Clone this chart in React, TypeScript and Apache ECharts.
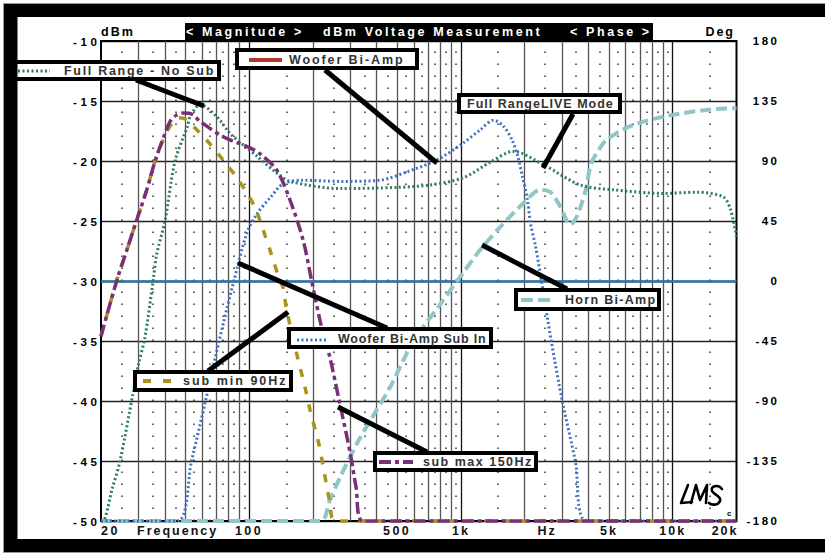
import React, { useEffect, useRef } from "react";
import * as echarts from "echarts";

// ---------------- data ----------------
const freqMin = 20;
const freqMax = 20000;
const dbMin = -50;
const dbMax = -10;
const dbStep = 5;
const degMin = -180;
const degMax = 180;
const degStep = 45;
const phaseZeroDeg = 0;

const fullRangeFreq = [20, 20.4, 22.6, 24.6, 28.4, 30, 32.2, 35.3, 36.6, 40.1, 44.7, 51.2, 52.7, 58.7, 70.4, 81.3, 97.6, 109, 135, 156, 269, 500, 716, 1026, 1376, 1766, 2449, 3664, 5240, 9032, 13060, 17340, 18700, 20000];
const fullRangeDb = [-50, -50, -47.3, -45, -39.25, -37, -34.75, -29.9, -27.8, -25, -20, -17.1, -16.3, -15.3, -16.3, -17.7, -18.9, -19.6, -21, -21.7, -22.3, -22.2, -22, -21.4, -20.1, -19.2, -20.3, -22, -22.4, -22.7, -22.6, -23, -24, -26.3];

const wooferSubInFreq = [20, 45.6, 53.5, 62.3, 68.6, 75.9, 84.2, 97.6, 109, 126.6, 145, 180, 269, 416, 557, 773, 1026, 1234, 1426, 1589, 1744, 1855, 1953, 2063, 2130, 2250, 2400, 2670, 3010, 3468, 3920, 20000];
const wooferSubInDb = [-50, -50, -45, -40, -36.7, -33.4, -30.2, -26, -24.4, -23, -21.9, -21.6, -21.7, -21.6, -20.9, -19.9, -18.5, -17.4, -16.6, -17.1, -18.25, -19.6, -21.3, -23.25, -25.2, -27.1, -30, -35, -40, -45, -50, -50];

const subMaxFreq = [20, 23.7, 26.4, 29.5, 32.9, 36, 40.1, 42.4, 45.2, 48.8, 53.8, 58.7, 75.9, 101, 112.7, 135, 156, 180, 197, 217, 241, 268, 300, 320, 344, 20000];
const subMaxDb = [-34.6, -30, -27.5, -24.9, -22.4, -20, -17.7, -16.7, -16.2, -16, -16.1, -16.7, -18, -18.9, -19.4, -20.75, -23.25, -26.6, -29.9, -33.4, -36.4, -40.2, -44.3, -47.2, -50, -50];

const subMinFreq = [20, 23.7, 26.4, 29.5, 32.9, 36, 40.1, 43.5, 46.5, 50, 54.5, 63, 74.5, 86, 95.7, 106.8, 116.6, 127, 137, 145, 150, 167, 185, 194, 213, 222.5, 241, 255, 20000];
const subMinDb = [-34.6, -30, -27.5, -24.9, -22.4, -20, -17.9, -16.8, -16.4, -16.5, -17.1, -18.25, -19.8, -21.2, -22.4, -23.9, -25.75, -27.7, -29.5, -30.6, -32.3, -35.9, -39.1, -40.75, -43.5, -45.2, -48.5, -50, -50];

const hornFreq = [20, 217, 241, 270, 324, 400, 465, 557, 667, 794, 997, 1234, 1534, 1977, 2372, 2650, 2946, 3282, 3530, 3900, 4100, 4500, 4900, 6300, 9060, 15100, 20000];
const hornDb = [-50, -50, -48.25, -46.3, -43.5, -40.75, -38.8, -36, -33.8, -32, -29.6, -27.4, -25.5, -23.5, -22.4, -22.6, -23.8, -25.3, -24.6, -22.3, -20.3, -19, -18.2, -17.1, -16.3, -15.7, -15.6];

const wooferBiAmpFreq: number[] = [];
const wooferBiAmpDb: number[] = [];

const xLabelFreqs = [20, 46, 100, 500, 1000, 2550, 5000, 10000, 20000];
const xLabelTexts = ["20", "Frequency", "100", "500", "1k", "Hz", "5k", "10k", "20k"];
const xLabelAligns = ["left", "center", "center", "center", "center", "center", "center", "center", "right"];

const seriesNames = ["Full Range - No Sub", "Woofer Bi-Amp", "Full RangeLIVE Mode", "Horn Bi-Amp", "Woofer Bi-Amp Sub In", "sub min 90Hz", "sub max 150Hz"];
const headerTexts = ["< Magnitude >", "dBm Voltage Measurement", "< Phase >"];
const leftUnit = "dBm";
const rightUnit = "Deg";

// ---------------- styling / layout ----------------
const C_GREEN = "#2a7d5e";
const C_BLUE = "#3c72c2";
const C_PURPLE = "#7a2f79";
const C_OLIVE = "#a8931c";
const C_TEAL = "#8fc6c8";
const C_RED = "#b0382c";
const FONT = '"Liberation Sans", Arial, sans-serif';

const legendSpacing: Record<string, number> = {
  "Full Range - No Sub": 1.7,
  "Woofer Bi-Amp": 1.9,
  "Full RangeLIVE Mode": 1,
  "Horn Bi-Amp": 1.3,
  "Woofer Bi-Amp Sub In": 0.8,
  "sub min 90Hz": 2,
  "sub max 150Hz": 1.5,
};

const LOGO_D = "M8 2 L1 20 L12 19 M11 20 L16 2 L20 17 L27 2 L26 20 M42 6 C38 1 30 3 32 8 C34 12 42 13 40 18 C38 23 31 22 29 20";
let logoRegistered = false;
function ensureLogo() {
  if (logoRegistered) return;
  echarts.graphic.registerShape("lmsLogo", echarts.graphic.extendPath(LOGO_D, {}) as any);
  logoRegistered = true;
}

function pairs(f: number[], d: number[]) {
  return f.map((x, i) => [x, d[i]]);
}

function lineSeries(name: string, f: number[], d: number[], color: string, width: number, dash: any, z: number) {
  return {
    type: "line",
    name,
    data: pairs(f, d),
    symbol: "none",
    showSymbol: false,
    smooth: 0.3,
    clip: false,
    silent: true,
    z,
    lineStyle: { color, width, type: dash, cap: "butt" },
  };
}

function txt(text: string, x: number, y: number, opts: any = {}) {
  return {
    type: "text",
    x,
    y,
    z: opts.z ?? 120,
    silent: true,
    style: {
      text,
      fill: opts.fill ?? "#333",
      font: opts.font ?? `bold 12.5px ${FONT}`,
      align: opts.align ?? "left",
      verticalAlign: "middle",
      textAlign: opts.align ?? "left",
      textVerticalAlign: "middle",
    },
  };
}

function seg(x1: number, y1: number, x2: number, y2: number, stroke: string, lineWidth: number, dash?: number[], z = 110) {
  return {
    type: "line",
    silent: true,
    z,
    shape: { x1, y1, x2, y2 },
    style: { stroke, lineWidth, lineDash: dash, lineCap: "butt" },
  };
}

function box(x: number, y: number, w: number, h: number) {
  return {
    type: "rect",
    silent: true,
    z: 115,
    shape: { x, y, width: w, height: h },
    style: { fill: "#fff", stroke: "#000", lineWidth: 4 },
  };
}

function spacingFor(s: string, attrs: string) {
  if (headerTexts.includes(s)) return 2.6;
  if (legendSpacing[s] != null) return legendSpacing[s];
  if (attrs.includes("11.6")) return 3.6; // left axis labels
  if (/^-?\d+$/.test(s)) return 2.5;
  if (s === leftUnit || s === rightUnit || s === "Hz" || s === "Frequency" || /k$/.test(s)) return 2;
  if (s === "c") return 0;
  return 1;
}

function applySpacing(root: HTMLElement | null) {
  if (!root) return;
  root.querySelectorAll("text").forEach((t) => {
    const s = (t.textContent || "").trim();
    const attrs = (t.getAttribute("style") || "") + " " + (t.getAttribute("font-size") || "") + " " + (t.getAttribute("font") || "");
    (t as any).style.letterSpacing = spacingFor(s, attrs) + "px";
  });
}

export default function App() {
  const ref = useRef<HTMLDivElement>(null);

  useEffect(() => {
    if (!ref.current) return;
    ensureLogo();
    const chart = echarts.init(ref.current, null, { renderer: "svg" });

    const solidFreqs: number[] = [];
    const dotFreqs: number[] = [];
    for (const dec of [10, 100, 1000, 10000]) {
      for (let m = 1; m <= 9; m++) {
        const v = m * dec;
        if (v > freqMin && v < freqMax) solidFreqs.push(v);
        const h = (m + 0.5) * dec;
        if (h > freqMin && h < freqMax) dotFreqs.push(h);
      }
    }

    const axisLabelBase = {
      color: "#000",
      fontWeight: "bold",
      fontFamily: FONT,
    };

    const option: any = {
      animation: false,
      backgroundColor: "#fff",
      textStyle: { fontFamily: FONT },
      grid: {
        left: 101,
        right: 88.5,
        top: 41,
        bottom: 34,
        show: true,
        borderColor: "#000",
        borderWidth: 2,
        backgroundColor: "transparent",
        z: 3,
      },
      xAxis: {
        type: "log",
        logBase: 10,
        min: freqMin,
        max: freqMax,
        axisLine: { show: false },
        axisTick: { show: false },
        axisLabel: { show: false },
        splitLine: { show: false },
        minorSplitLine: { show: false },
      },
      yAxis: [
        {
          type: "value",
          min: dbMin,
          max: dbMax,
          interval: dbStep,
          axisLine: { show: false },
          axisTick: { show: false },
          splitLine: { show: true, lineStyle: { color: "#222", width: 1.3 } },
          axisLabel: { ...axisLabelBase, fontSize: 11.6, margin: 0.5 },
        },
        {
          type: "value",
          position: "right",
          min: degMin,
          max: degMax,
          interval: degStep,
          axisLine: { show: false },
          axisTick: { show: false },
          splitLine: { show: false },
          axisLabel: { ...axisLabelBase, fontSize: 11.5, align: "right", margin: 43 },
        },
      ],
      series: [
        {
          type: "line",
          name: "grid",
          data: [],
          silent: true,
          z: 1,
          markLine: {
            silent: true,
            symbol: "none",
            animation: false,
            label: { show: false },
            emphasis: { disabled: true },
            data: [
              ...solidFreqs.map((f) => ({
                xAxis: f,
                lineStyle: { color: f === 100 || f === 1000 || f === 10000 ? "#111" : "#555", width: 1.3, type: "solid" },
              })),
              ...dotFreqs.map((f) => ({
                xAxis: f,
                lineStyle: { color: "#333", width: 1.5, type: [1.5, 10.5] },
              })),
            ],
          },
        },
        {
          type: "line",
          name: "phase0",
          yAxisIndex: 1,
          data: [],
          silent: true,
          z: 2,
          markLine: {
            silent: true,
            symbol: "none",
            animation: false,
            label: { show: false },
            emphasis: { disabled: true },
            data: [{ yAxis: phaseZeroDeg, lineStyle: { color: "#2c73a3", width: 2.5, type: "solid" } }],
          },
        },
        lineSeries(seriesNames[1], wooferBiAmpFreq, wooferBiAmpDb, C_RED, 3, "solid", 4),
        lineSeries(seriesNames[3], hornFreq, hornDb, C_TEAL, 4, [11, 5], 5),
        lineSeries(seriesNames[0], fullRangeFreq, fullRangeDb, C_GREEN, 3, [2, 2.5], 6),
        lineSeries(seriesNames[4], wooferSubInFreq, wooferSubInDb, C_BLUE, 3, [2, 2.5], 7),
        lineSeries(seriesNames[5], subMinFreq, subMinDb, C_OLIVE, 3.5, [8, 10], 8),
        lineSeries(seriesNames[6], subMaxFreq, subMaxDb, C_PURPLE, 3.5, [12, 4, 4, 4], 9),
      ],
    };
    chart.setOption(option);

    const px = (f: number) => chart.convertToPixel({ xAxisIndex: 0 }, f) as number;

    const graphics: any[] = [
      { type: "rect", silent: true, z: 200, shape: { x: 3, y: 3, width: 822, height: 1 }, style: { fill: "#999" } },
      { type: "rect", silent: true, z: 200, shape: { x: 3, y: 3, width: 1, height: 550 }, style: { fill: "#999" } },
      { type: "rect", silent: true, z: 200, shape: { x: 3, y: 552, width: 822, height: 1 }, style: { fill: "#999" } },
      { type: "rect", silent: true, z: 200, shape: { x: 4, y: 4, width: 821, height: 13 }, style: { fill: "#000" } },
      { type: "rect", silent: true, z: 200, shape: { x: 4, y: 4, width: 13.5, height: 548 }, style: { fill: "#000" } },
      { type: "rect", silent: true, z: 200, shape: { x: 4, y: 539, width: 821, height: 13 }, style: { fill: "#000" } },
      { type: "rect", silent: true, z: 100, shape: { x: 185, y: 23, width: 468, height: 18.5 }, style: { fill: "#000" } },
      txt(headerTexts[0], 186, 32, { fill: "#fff" }),
      txt(headerTexts[1], 323, 32, { fill: "#fff" }),
      txt(headerTexts[2], 570, 32, { fill: "#fff" }),
      txt(leftUnit, 101, 32, { fill: "#000" }),
      txt(rightUnit, 735, 32, { fill: "#000", align: "right" }),

      seg(136, 80, 204, 106, "#000", 5),
      seg(325, 70, 437, 163, "#000", 5),
      seg(573, 114, 543, 168, "#000", 5),
      seg(567, 289, 482, 245, "#000", 5),
      seg(387, 328, 238, 263, "#000", 5),
      seg(208, 371, 288, 312, "#000", 5),
      seg(427, 452, 338, 407, "#000", 5),

      box(15, 62, 204, 17),
      seg(18, 71, 50, 71, C_GREEN, 3, [2, 2.5], 118),
      txt(seriesNames[0], 64, 70.5),

      box(237, 50, 180, 18),
      seg(249, 60, 282, 60, C_RED, 4, undefined, 118),
      txt(seriesNames[1], 289, 59.5),

      box(459, 95, 161, 17),
      txt(seriesNames[2], 467, 104),

      box(516, 290, 143, 19),
      seg(521, 300, 555, 300, C_TEAL, 4, [12, 5], 118),
      txt(seriesNames[3], 565, 300),

      box(289, 329, 202, 18),
      seg(297, 340, 328, 340, C_BLUE, 3, [2, 2.5], 118),
      txt(seriesNames[4], 338, 338.5),

      box(135, 372, 156, 18),
      seg(143, 381, 172, 381, C_OLIVE, 4, [8, 12], 118),
      txt(seriesNames[5], 183, 381),

      box(375, 453, 161, 17),
      seg(379, 462, 413, 462, C_PURPLE, 4, [12, 4, 4, 4], 118),
      txt(seriesNames[6], 423, 462),

      {
        type: "lmsLogo",
        x: 680,
        y: 483,
        scaleX: 1,
        scaleY: 1,
        silent: true,
        z: 120,
        style: { stroke: "#000", fill: "none", lineWidth: 2.6, lineJoin: "round", lineCap: "round" },
      },
      txt("c", 727, 513, { fill: "#000", font: `bold 8px ${FONT}` }),
    ];

    xLabelFreqs.forEach((f, i) => {
      let x = px(f);
      const a = xLabelAligns[i];
      if (a === "right") x += 2;
      graphics.push(txt(xLabelTexts[i], x, 531, { fill: "#111", align: a }));
    });

    chart.setOption({ graphic: graphics });
    applySpacing(ref.current);
    const onFinished = () => applySpacing(ref.current);
    chart.on("finished", onFinished);
    const t = setTimeout(() => applySpacing(ref.current), 50);

    return () => {
      clearTimeout(t);
      chart.off("finished", onFinished);
      chart.dispose();
    };
  }, []);

  return (
    <div
      ref={ref}
      style={{ position: "fixed", left: 0, top: 0, width: 825, height: 555, background: "#fff" }}
    />
  );
}
